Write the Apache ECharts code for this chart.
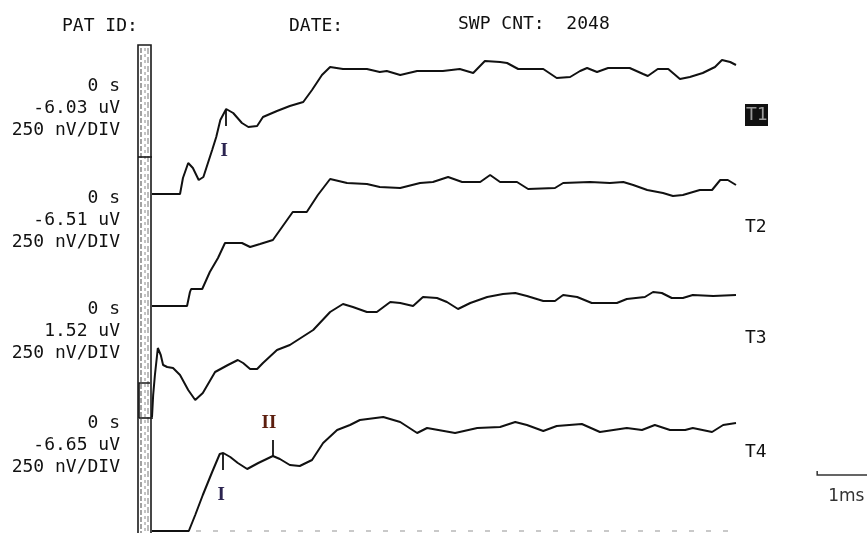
<!DOCTYPE html>
<html>
<head>
<meta charset="utf-8">
<script src="https://cdn.jsdelivr.net/npm/echarts@6/dist/echarts.min.js"></script>
<style>
  html, body { margin: 0; padding: 0; background: #fff; }
  #chart_abr { width: 867px; height: 533px; }
</style>
</head>
<body>
<div id="chart_abr"></div>
<script>
// time in ms, amplitude in uV relative to the start of each trace
var traceT1 = [[0,0],[0.48,0],[0.53,0.16],[0.62,0.31],[0.70,0.26],[0.80,0.14],[0.88,0.17],[1.03,0.44],[1.10,0.57],[1.17,0.74],[1.27,0.85],[1.39,0.81],[1.54,0.71],[1.65,0.67],[1.80,0.68],[1.90,0.77],[2.14,0.83],[2.36,0.88],[2.59,0.92],[2.74,1.04],[2.91,1.19],[3.05,1.27],[3.27,1.25],[3.68,1.25],[3.90,1.22],[4.02,1.23],[4.25,1.19],[4.54,1.23],[4.98,1.23],[5.27,1.25],[5.50,1.21],[5.70,1.33],[5.96,1.32],[6.08,1.31],[6.27,1.25],[6.70,1.25],[6.93,1.16],[7.16,1.17],[7.33,1.23],[7.45,1.26],[7.62,1.22],[7.81,1.26],[8.18,1.26],[8.41,1.20],[8.49,1.18],[8.66,1.25],[8.84,1.25],[9.04,1.15],[9.21,1.17],[9.43,1.21],[9.64,1.27],[9.76,1.34],[9.90,1.32],[10.0,1.29]];
var traceT2 = [[0,0],[0.60,0],[0.65,0.14],[0.67,0.17],[0.86,0.17],[0.99,0.34],[1.13,0.48],[1.25,0.63],[1.54,0.63],[1.68,0.59],[1.85,0.62],[2.07,0.66],[2.24,0.80],[2.41,0.94],[2.65,0.94],[2.84,1.11],[3.05,1.27],[3.34,1.23],[3.68,1.22],[3.90,1.19],[4.25,1.18],[4.59,1.23],[4.81,1.24],[5.07,1.29],[5.31,1.24],[5.62,1.24],[5.79,1.31],[5.96,1.24],[6.25,1.24],[6.44,1.17],[6.90,1.18],[7.04,1.23],[7.50,1.24],[7.84,1.23],[8.07,1.24],[8.24,1.21],[8.48,1.16],[8.75,1.13],[8.92,1.10],[9.09,1.11],[9.38,1.16],[9.59,1.16],[9.73,1.26],[9.86,1.26],[10.0,1.21]];
var traceT3 = [[0,0],[0.02,0.22],[0.05,0.42],[0.10,0.69],[0.15,0.62],[0.19,0.52],[0.26,0.50],[0.36,0.49],[0.48,0.42],[0.62,0.27],[0.74,0.17],[0.87,0.24],[1.08,0.45],[1.30,0.52],[1.47,0.57],[1.56,0.54],[1.68,0.48],[1.80,0.48],[1.90,0.54],[2.14,0.67],[2.36,0.72],[2.76,0.87],[3.05,1.05],[3.27,1.13],[3.44,1.10],[3.68,1.05],[3.85,1.05],[4.08,1.15],[4.25,1.14],[4.47,1.11],[4.64,1.20],[4.88,1.19],[5.05,1.15],[5.24,1.08],[5.45,1.14],[5.74,1.20],[6.01,1.23],[6.22,1.24],[6.42,1.21],[6.70,1.16],[6.90,1.16],[7.04,1.22],[7.28,1.20],[7.53,1.14],[7.96,1.14],[8.13,1.18],[8.44,1.20],[8.58,1.25],[8.73,1.24],[8.90,1.19],[9.09,1.19],[9.26,1.22],[9.61,1.21],[10.0,1.22]];
var traceT4 = [[0,0],[0.63,0],[0.74,0.16],[0.87,0.36],[1.03,0.59],[1.16,0.77],[1.22,0.78],[1.34,0.74],[1.47,0.68],[1.63,0.62],[1.82,0.68],[2.07,0.75],[2.19,0.72],[2.36,0.66],[2.53,0.65],[2.74,0.71],[2.93,0.88],[3.17,1.01],[3.39,1.06],[3.56,1.11],[3.96,1.14],[4.25,1.09],[4.54,0.98],[4.71,1.03],[5.19,0.98],[5.57,1.03],[5.96,1.04],[6.22,1.09],[6.42,1.06],[6.70,1.00],[6.93,1.05],[7.36,1.07],[7.67,0.99],[8.13,1.03],[8.39,1.01],[8.61,1.06],[8.87,1.01],[9.13,1.01],[9.26,1.03],[9.59,0.99],[9.78,1.06],[10.0,1.08]];

var traceNames = ['T1', 'T2', 'T3', 'T4'];
var traceLevels = ['-6.03 uV', '-6.51 uV', '1.52 uV', '-6.65 uV'];
var traceStart = '0 s';
var traceScale = '250 nV/DIV';
// wave peaks marked on the traces (trace index, wave name, latency in ms)
var waveMarks = [
  { trace: 0, name: 'I', t: 1.27, dir: 'down' },
  { trace: 3, name: 'I', t: 1.22, dir: 'down' },
  { trace: 3, name: 'II', t: 2.07, dir: 'up' }
];
var sweepCount = '2048';
var scaleBarMs = 1;

// layout: vertical position of each trace on the page (uV above the bottom)
var traceOffsets = [3.39, 2.27, 1.16, 0.02];
var traces = [traceT1, traceT2, traceT3, traceT4];

var myChart = echarts.init(document.getElementById('chart_abr'));
var monoFont = '"DejaVu Sans Mono", "Liberation Mono", monospace';

function valueAt(trace, t) {
  for (var i = 0; i < trace.length; i++) {
    if (trace[i][0] === t) return trace[i][1];
  }
  return 0;
}

var series = [];
for (var k = 0; k < traces.length; k++) {
  var off = traceOffsets[k];
  var shifted = traces[k].map(function (p) { return [p[0], +(p[1] + off).toFixed(3)]; });
  var mLines = [], mPoints = [];
  waveMarks.forEach(function (w) {
    if (w.trace !== k) return;
    var v = valueAt(traces[k], w.t) + off;
    var len = w.dir === 'down' ? -0.17 : 0.16;
    mLines.push([{ coord: [w.t, v] }, { coord: [w.t, v + len] }]);
    mPoints.push({
      coord: [w.t, v],
      value: w.name,
      label: {
        offset: w.dir === 'down' ? [-2, 42] : [-4, -33],
        color: w.name === 'I' ? '#2b2450' : '#5c1e0e'
      }
    });
  });
  series.push({
    name: traceNames[k],
    type: 'line',
    data: shifted,
    showSymbol: false,
    symbol: 'none',
    animation: false,
    lineStyle: { color: '#111', width: 2 },
    markLine: {
      silent: true,
      symbol: ['none', 'none'],
      animation: false,
      label: { show: false },
      lineStyle: { color: '#111', width: 1.8, type: 'solid' },
      data: mLines
    },
    markPoint: {
      silent: true,
      animation: false,
      symbol: 'rect',
      symbolSize: [1, 1],
      itemStyle: { color: 'rgba(0,0,0,0)' },
      label: {
        show: true,
        position: 'inside',
        formatter: function (p) { return p.value; },
        fontFamily: '"Liberation Serif", "DejaVu Serif", serif',
        fontWeight: 'bold',
        fontSize: 19
      },
      data: mPoints
    }
  });
}

myChart.setOption({
  animation: false,
  grid: { left: 152, right: 131, top: 0, bottom: 0, containLabel: false },
  xAxis: { type: 'value', min: 0, max: 10, show: false, splitLine: { show: false } },
  yAxis: { type: 'value', min: 0, max: 5.33, show: false, splitLine: { show: false } },
  series: series
});

// texts placed from the trace baselines
var g = [];
function txt(x, y, text, align, font, fill) {
  g.push({ type: 'text', x: x, y: y, silent: true,
    style: { text: text, font: font, fill: fill || '#111', textAlign: align, textVerticalAlign: 'middle' } });
}
txt(62, 26, 'PAT ID:', 'left', '18px ' + monoFont);
txt(289, 26, 'DATE:', 'left', '18px ' + monoFont);
txt(458, 24, 'SWP CNT:  ' + sweepCount, 'left', '18px ' + monoFont);

for (var i = 0; i < traces.length; i++) {
  var base = myChart.convertToPixel({ gridIndex: 0 }, [0, traceOffsets[i]]);
  var by = base[1];
  txt(120, by - 108, traceStart, 'right', '18px ' + monoFont);
  txt(120, by - 86, traceLevels[i], 'right', '18px ' + monoFont);
  txt(120, by - 64, traceScale, 'right', '18px ' + monoFont);
  if (i === 0) {
    g.push({ type: 'rect', silent: true, shape: { x: 745, y: by - 90, width: 23, height: 22 }, style: { fill: '#111' } });
    txt(746, by - 79, traceNames[i], 'left', '18px ' + monoFont, '#9a9a9a');
  } else {
    txt(745, by - 79, traceNames[i], 'left', '18px ' + monoFont);
  }
}

// 1 ms scale bar, measured on the time axis
var barStart = 11.39, barLevel = 0.58;
var p0 = myChart.convertToPixel({ gridIndex: 0 }, [barStart, barLevel]);
var p1 = myChart.convertToPixel({ gridIndex: 0 }, [barStart + scaleBarMs, barLevel]);
g.push({ type: 'polyline', silent: true,
  shape: { points: [[p0[0], p0[1] - 4], [p0[0], p0[1]], [p1[0], p1[1]]] },
  style: { stroke: '#333', lineWidth: 1.5, fill: null } });
txt(p0[0] + 11, p0[1] + 22, scaleBarMs + 'ms', 'left', '17px "DejaVu Sans", Verdana, sans-serif', '#333');

// stimulus marker bar on the left
var bar = { stroke: '#1a1a1a', lineWidth: 1.6, fill: null };
g.push({ type: 'line', silent: true, shape: { x1: 141, y1: 48, x2: 141, y2: 533 }, style: { stroke: '#666', lineWidth: 1.2, lineDash: [5, 2] } });
g.push({ type: 'line', silent: true, shape: { x1: 145, y1: 48, x2: 145, y2: 533 }, style: { stroke: '#888', lineWidth: 1, lineDash: [3, 3] } });
g.push({ type: 'line', silent: true, shape: { x1: 148, y1: 48, x2: 148, y2: 533 }, style: { stroke: '#777', lineWidth: 1, lineDash: [6, 3] } });
g.push({ type: 'polyline', silent: true, shape: { points: [[138, 533], [138, 45], [151, 45], [151, 533]] }, style: bar });
g.push({ type: 'line', silent: true, shape: { x1: 138, y1: 157, x2: 152, y2: 157 }, style: bar });
g.push({ type: 'polyline', silent: true, shape: { points: [[139, 418], [139, 383], [150, 383]] }, style: bar });
g.push({ type: 'line', silent: true, shape: { x1: 139, y1: 418, x2: 153, y2: 418 }, style: bar });
// faint print residue along the bottom edge
g.push({ type: 'line', silent: true, shape: { x1: 196, y1: 531, x2: 735, y2: 531 }, style: { stroke: '#b8b8b8', lineWidth: 1.5, lineDash: [5, 12] } });

myChart.setOption({ graphic: g });

window.addEventListener('resize', function () { myChart.resize(); });
</script>
</body>
</html>
